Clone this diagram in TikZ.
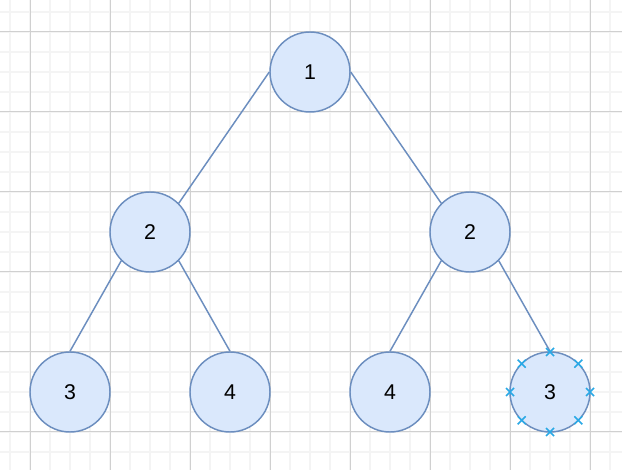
\documentclass[tikz,border=0pt]{standalone}
\usepackage{fontspec}
\setmainfont{Liberation Sans}
\usetikzlibrary{calc}
\definecolor{nfill}{HTML}{DAE8FC}
\definecolor{nline}{HTML}{6C8EBF}
\definecolor{gmaj}{HTML}{D0D0D0}
\definecolor{gmin}{HTML}{F4F4F4}
\definecolor{xmark}{HTML}{29A9E6}
\begin{document}
\begin{tikzpicture}[x=0.75pt,y=-0.75pt,
  tnode/.style={circle,draw=nline,fill=nfill,line width=1.1pt,minimum size=60pt,inner sep=0pt,font=\fontsize{16}{19}\selectfont},
  edge/.style={draw=nline,line width=1.1pt},
  xm/.style={draw=xmark,line width=1.1pt}]
\useasboundingbox (0,0) rectangle (622,470);
\fill[white] (0,0) rectangle (622,470);
% minor grid
\foreach \x in {10,30,...,610} \draw[gmin,line width=1pt] (\x,0) -- (\x,470);
\foreach \y in {12,32,...,470} \draw[gmin,line width=1pt] (0,\y) -- (622,\y);
% major grid
\foreach \x in {30,110,...,610} \draw[gmaj,line width=0.75pt] (\x,0) -- (\x,470);
\foreach \y in {32,112,...,470} \draw[gmaj,line width=0.75pt] (0,\y) -- (622,\y);
% nodes
\node[tnode] (r) at (310,72) {1};
\node[tnode] (a) at (150,232) {2};
\node[tnode] (b) at (470,232) {2};
\node[tnode] (a1) at (70,392) {3};
\node[tnode] (a2) at (230,392) {4};
\node[tnode] (b1) at (390,392) {4};
\node[tnode] (b2) at (550,392) {3};
% edges
\draw[edge] (r.west) -- (a.north east);
\draw[edge] (r.east) -- (b.north west);
\draw[edge] (a.south west) -- (a1.north);
\draw[edge] (a.south east) -- (a2.north);
\draw[edge] (b.south west) -- (b1.north);
\draw[edge] (b.south east) -- (b2.north);
% connection markers
\foreach \ang in {0,45,...,315} {
  \coordinate (m) at ($(b2.center)+(\ang:30pt)$);
  \draw[xm] ([shift={(-3pt,-3pt)}]m) -- ([shift={(3pt,3pt)}]m);
  \draw[xm] ([shift={(-3pt,3pt)}]m) -- ([shift={(3pt,-3pt)}]m);
}
\end{tikzpicture}
\end{document}
